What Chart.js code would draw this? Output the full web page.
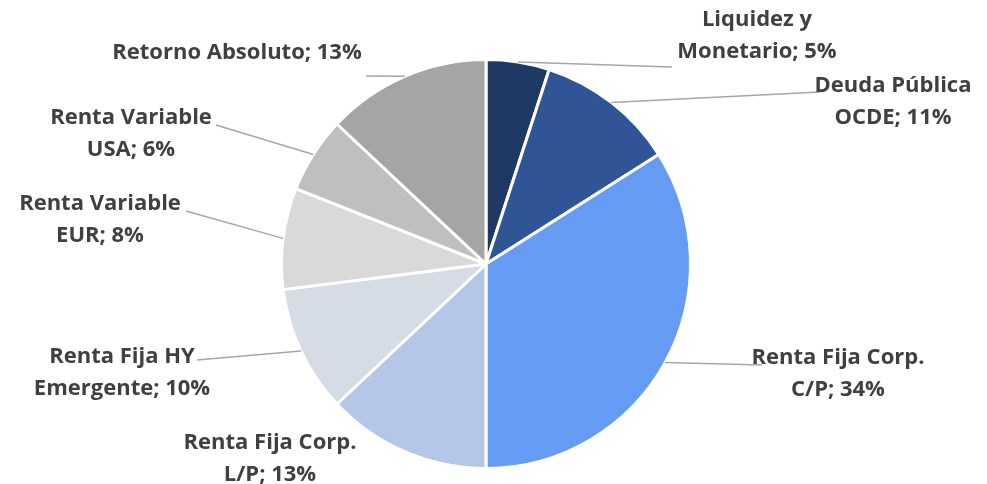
<!DOCTYPE html>
<html>
<head>
<meta charset="utf-8">
<script src="https://cdn.jsdelivr.net/npm/chart.js@4/dist/chart.umd.min.js"></script>
<style>
  body { margin: 0; background: #fff; }
</style>
</head>
<body>
<canvas id="myChart" width="987" height="484"></canvas>
<script>
var categories = ['Liquidez y Monetario', 'Deuda Pública OCDE', 'Renta Fija Corp. C/P', 'Renta Fija Corp. L/P',
    'Renta Fija HY Emergente', 'Renta Variable EUR', 'Renta Variable USA', 'Retorno Absoluto'];
var values = [5, 11, 34, 13, 10, 8, 6, 13];
var labelLines = [
    ['Liquidez y', 'Monetario; 5%'],
    ['Deuda Pública', 'OCDE; 11%'],
    ['Renta Fija Corp.', 'C/P; 34%'],
    ['Renta Fija Corp.', 'L/P; 13%'],
    ['Renta Fija HY', 'Emergente; 10%'],
    ['Renta Variable', 'EUR; 8%'],
    ['Renta Variable', 'USA; 6%'],
    ['Retorno Absoluto; 13%']
];
var sliceColors = ['#203864', '#2F5597', '#659BF3', '#B4C7E7', '#D6DCE5', '#D9D9D9', '#BFBFBF', '#A5A5A5'];

// label placement relative to pie centre: text centre x, first line y, leader end
var labelPlace = [
    { x: 271, y: -244, end: [186, -197] },
    { x: 407, y: -178, end: [334, -172] },
    { x: 352, y: 94, end: [276, 101] },
    { x: -216, y: 179, end: null },
    { x: -364, y: 93, end: [-289, 96] },
    { x: -386, y: -60, end: [-300, -53] },
    { x: -355, y: -146, end: [-270, -139] },
    { x: -249, y: -211, end: [-120, -188] }
];

var pieLabels = {
    id: 'pieLabels',
    afterDraw: function (chart) {
        var c = chart.ctx;
        var arcs = chart.getDatasetMeta(0).data;
        c.save();
        arcs.forEach(function (arc, i) {
            var cx = arc.x, cy = arc.y;
            var mid = (arc.startAngle + arc.endAngle) / 2;
            var p = labelPlace[i];
            if (p.end) {
                c.strokeStyle = '#A6A6A6';
                c.lineWidth = 1.5;
                c.beginPath();
                c.moveTo(cx + Math.cos(mid) * arc.outerRadius, cy + Math.sin(mid) * arc.outerRadius);
                c.lineTo(cx + p.end[0], cy + p.end[1]);
                c.stroke();
            }
            c.fillStyle = '#404040';
            c.font = 'bold 22px "Open Sans"';
            c.textAlign = 'center';
            c.textBaseline = 'middle';
            labelLines[i].forEach(function (t, j) {
                c.fillText(t, cx + p.x, cy + p.y + j * 32);
            });
        });
        c.restore();
    }
};

var ctx = document.getElementById('myChart').getContext('2d');
var mychart = new Chart(ctx, {
    type: 'pie',
    data: {
        labels: categories,
        datasets: [{
            data: values,
            backgroundColor: sliceColors,
            borderColor: '#ffffff',
            borderWidth: 3
        }]
    },
    options: {
        responsive: false,
        animation: false,
        layout: { padding: { top: 58, bottom: 14, left: 280, right: 295 } },
        plugins: {
            legend: { display: false },
            tooltip: { enabled: false }
        }
    },
    plugins: [pieLabels]
});
</script>
</body>
</html>
